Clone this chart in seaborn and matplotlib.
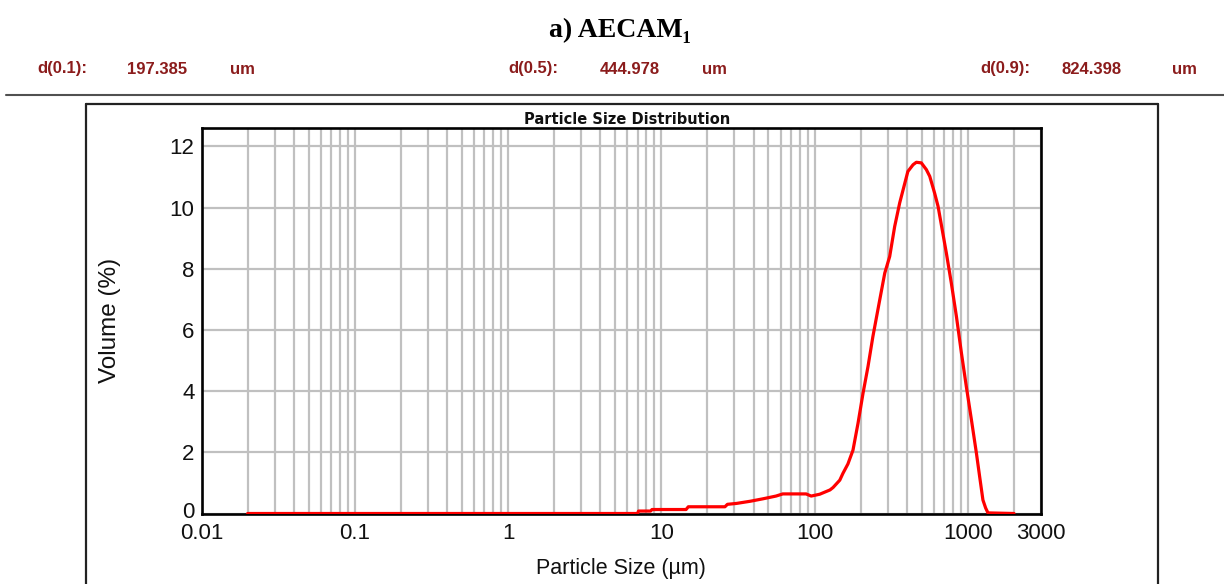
import matplotlib
matplotlib.use("Agg")
import matplotlib.pyplot as plt
from matplotlib.lines import Line2D
from matplotlib.ticker import FixedLocator, FixedFormatter, LogLocator, NullFormatter
from matplotlib.transforms import ScaledTranslation
import pandas as pd
import seaborn as sns

# particle size (um) and volume (%)
size_um = [0.02, 7.0, 7.1, 8.5, 8.7, 14.5, 15.0, 26.0, 27.0, 31.0, 38.0, 46.0,
           56.0, 62.0, 88.0, 95.0, 108.0, 126.0, 132.0, 146.0, 153.0, 165.0,
           178.0, 192.0, 207.0, 223.0, 240.0, 266.0, 287.0, 309.0, 333.0, 359.0,
           406.0, 439.0, 461.0, 497.0, 536.0, 564.0, 607.0, 639.0, 724.0, 780.0,
           842.0, 908.0, 977.0, 1055.0, 1137.0, 1194.0, 1254.0, 1306.0, 1352.0,
           2000.0]
volume_pct = [0.0, 0.0, 0.08, 0.08, 0.13, 0.13, 0.22, 0.22, 0.30, 0.33, 0.40, 0.48,
              0.57, 0.64, 0.64, 0.57, 0.63, 0.77, 0.85, 1.09, 1.31, 1.62,
              2.07, 2.95, 3.93, 4.80, 5.78, 6.98, 7.86, 8.40, 9.38, 10.15,
              11.18, 11.40, 11.48, 11.46, 11.24, 11.02, 10.47, 10.04, 8.51, 7.53,
              6.44, 5.24, 4.15, 3.06, 1.97, 1.20, 0.44, 0.18, 0.02,
              0.0]

x_ticks = [0.01, 0.1, 1, 10, 100, 1000, 3000]
x_tick_labels = ["0.01", "0.1", "1", "10", "100", "1000", "3000"]
y_ticks = [0, 2, 4, 6, 8, 10, 12]

stat_names = ["d(0.1):", "d(0.5):", "d(0.9):"]
stat_values = ["197.385", "444.978", "824.398"]
stat_unit = "um"

W, H = 1224, 584


def fx(px):
    return px / W


def fy(py):
    return 1 - py / H


sns.set_theme(style="white")
plt.rcParams["font.family"] = ["Liberation Sans", "DejaVu Sans"]

df = pd.DataFrame({"size": size_um, "volume": volume_pct})

fig = plt.figure(figsize=(W / 100, H / 100), dpi=100)
ax = fig.add_axes([fx(201.5), fy(513.5), fx(1041) - fx(201.5), fy(128) - fy(513.5)])

sns.lineplot(data=df, x="size", y="volume", ax=ax, color="#ff0000",
             linewidth=2.3, estimator=None, sort=False, zorder=3)

ax.set_xscale("log")
ax.set_xlim(0.01, 3000)
ax.set_ylim(0, 12.6)
ax.xaxis.set_major_locator(FixedLocator(x_ticks))
ax.xaxis.set_major_formatter(FixedFormatter(x_tick_labels))
ax.xaxis.set_minor_locator(LogLocator(base=10, subs=range(2, 10), numticks=20))
ax.xaxis.set_minor_formatter(NullFormatter())
ax.yaxis.set_major_locator(FixedLocator(y_ticks))

ax.set_axisbelow(True)
ax.grid(which="both", axis="both", color="#c0c0c0", linewidth=1.6)
ax.tick_params(which="both", length=0)
ax.tick_params(axis="x", pad=7)
ax.tick_params(axis="y", pad=5)
for lab in ax.get_xticklabels() + ax.get_yticklabels():
    lab.set_fontsize(16)
    lab.set_color("#111111")

# the "0" of the y axis sits a little above the baseline, as in the original
zero_lab = ax.yaxis.get_major_ticks()[0].label1
zero_lab.set_transform(zero_lab.get_transform() +
                       ScaledTranslation(0, 4 / 100, fig.dpi_scale_trans))

for sp in ax.spines.values():
    sp.set_color("black")
    sp.set_linewidth(1.9)

ax.set_xlabel("Particle Size (µm)", fontsize=15.5, color="#111111", labelpad=10)
ax.set_ylabel("Volume (%)", fontsize=17.5, color="#111111", labelpad=35)

fig.text(fx(627), fy(127), "Particle Size Distribution", ha="center", va="bottom",
         fontsize=10.5, fontweight="bold", family=["DejaVu Sans"], color="#111111")

# header
fig.text(fx(620), fy(30), "a) AECAM\u2081", ha="center", va="center",
         fontsize=20, fontweight="bold", family=["Liberation Serif", "DejaVu Serif"],
         color="black")

name_x = [37, 508, 980]
value_x = [127, 600, 1062]
unit_x = [230, 702, 1172]
for i in range(3):
    for px, txt in [(name_x[i], stat_names[i]), (value_x[i], stat_values[i]),
                    (unit_x[i], stat_unit)]:
        fig.text(fx(px), fy(69), txt, ha="left", va="center", fontsize=12,
                 fontweight="bold", color="#8b1c1c")

fig.add_artist(Line2D([fx(6), fx(1224)], [fy(95), fy(95)], color="#505050", lw=1.5))

# outer frame around the plot
frame_kw = dict(color="#222222", lw=1.6)
fig.add_artist(Line2D([fx(86), fx(1158)], [fy(104), fy(104)], **frame_kw))
fig.add_artist(Line2D([fx(86), fx(86)], [fy(104), fy(590)], **frame_kw))
fig.add_artist(Line2D([fx(1158), fx(1158)], [fy(104), fy(590)], **frame_kw))

fig.savefig("out.png", dpi=100)
